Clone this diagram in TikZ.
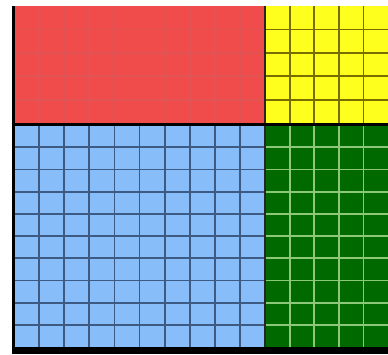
\documentclass[tikz,border=0pt]{standalone}
\definecolor{cred}{RGB}{240,76,76}
\definecolor{cyel}{RGB}{255,255,30}
\definecolor{cblue}{RGB}{135,190,250}
\definecolor{cgreen}{RGB}{0,105,0}
\definecolor{gred}{RGB}{200,100,100}
\definecolor{gyel}{RGB}{120,110,0}
\definecolor{gblue}{RGB}{60,90,130}
\definecolor{ggreen}{RGB}{140,200,120}
\tikzset{gridline/.style={line width=1.8pt}}
\begin{document}
\begin{tikzpicture}[x=1pt,y=-1pt]
\useasboundingbox (0,0) rectangle (388,354);
\fill[white] (0,0) rectangle (388,354);
% fills
\fill[cred] (14,6) rectangle (265,124);
\fill[cyel] (265,6) rectangle (388,124);
\fill[cblue] (14,124) rectangle (265,348);
\fill[cgreen] (265,124) rectangle (388,348);
% red grid (faint)
\foreach \i in {1,...,9} \draw[gridline,gred,opacity=0.35] ({14+25.1*\i},6) -- ({14+25.1*\i},124);
\foreach \j in {1,...,4} \draw[gridline,gred,opacity=0.35] (14,{6+23.4*\j}) -- (265,{6+23.4*\j});
% yellow grid
\foreach \i in {1,...,4} \draw[gridline,gyel] ({265+24.6*\i},6) -- ({265+24.6*\i},124);
\foreach \j in {1,...,4} \draw[gridline,gyel] (265,{6+23.4*\j}) -- (388,{6+23.4*\j});
% blue grid
\foreach \i in {1,...,9} \draw[gridline,gblue] ({14+25.1*\i},124) -- ({14+25.1*\i},348);
\foreach \j in {1,...,9} \draw[gridline,gblue] (14,{125+22.2*\j}) -- (265,{125+22.2*\j});
% green grid
\foreach \i in {1,...,4} \draw[gridline,ggreen] ({265+24.6*\i},124) -- ({265+24.6*\i},348);
\foreach \j in {1,...,9} \draw[gridline,ggreen] (265,{125+22.2*\j}) -- (388,{125+22.2*\j});
% borders
\draw[line width=2pt,black!85] (265,6) -- (265,348);
\draw[line width=3pt,black] (13.5,124) -- (388,124);
\fill[black] (12,6) rectangle (15,354);
\fill[black] (12,347) rectangle (388,354);
\end{tikzpicture}
\end{document}
